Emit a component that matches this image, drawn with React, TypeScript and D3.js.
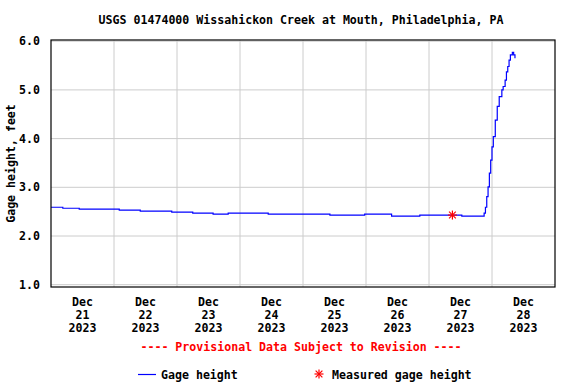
import React from "react";
import * as d3 from "d3";

const title = "USGS 01474000 Wissahickon Creek at Mouth, Philadelphia, PA";
const yLabel = "Gage height, feet";
const provisional = "---- Provisional Data Subject to Revision ----";
const yTicks = [1, 2, 3, 4, 5, 6];
const dayLabels = ["21", "22", "23", "24", "25", "26", "27", "28"];
const gageTimes = [
  "2023-12-21T00:00", "2023-12-21T04:30", "2023-12-21T10:45", "2023-12-22T02:00",
  "2023-12-22T10:00", "2023-12-22T22:00", "2023-12-23T06:00", "2023-12-23T13:45",
  "2023-12-23T19:30", "2023-12-24T10:45", "2023-12-25T10:15", "2023-12-25T23:30",
  "2023-12-26T09:45", "2023-12-26T20:30", "2023-12-27T12:30", "2023-12-27T20:00",
  "2023-12-27T21:00", "2023-12-27T21:30", "2023-12-27T22:00", "2023-12-27T22:30",
  "2023-12-27T23:00", "2023-12-27T23:30", "2023-12-28T00:00", "2023-12-28T00:30",
  "2023-12-28T01:15", "2023-12-28T02:00", "2023-12-28T02:45", "2023-12-28T03:45",
  "2023-12-28T04:15", "2023-12-28T05:00", "2023-12-28T05:30", "2023-12-28T06:00",
  "2023-12-28T06:30", "2023-12-28T07:00", "2023-12-28T07:45", "2023-12-28T08:15",
  "2023-12-28T08:45",
];
const gageValues = [
  2.59, 2.57, 2.55, 2.53,
  2.51, 2.49, 2.47, 2.45,
  2.47, 2.45, 2.43, 2.45,
  2.41, 2.43, 2.41, 2.41,
  2.47, 2.59, 2.81, 3.01,
  3.29, 3.56, 3.83, 4.04,
  4.38, 4.66, 4.86, 5.0,
  5.07, 5.2, 5.37, 5.48,
  5.61, 5.72, 5.77, 5.72,
  5.65,
];
const measuredTimes = ["2023-12-27T08:55"];
const measuredValues = [2.43];

const parse = d3.utcParse("%Y-%m-%dT%H:%M");
const FONT = "'DejaVu Sans Mono', monospace";

export default function App() {
  const W = 576, H = 384;
  const L = 51, R = 555, T = 40, B = 287;
  const x = d3.scaleUtc()
    .domain([parse("2023-12-21T00:00")!, parse("2023-12-29T00:00")!])
    .range([L, R]);
  const y = d3.scaleLinear().domain([1, 6]).range([284.7, 41.2]);
  const days = d3.utcDay.range(parse("2023-12-21T00:00")!, parse("2023-12-29T00:00")!);
  const midnights = days.slice(1);
  const data = gageTimes.map((t, i) => ({ t: parse(t)!, v: gageValues[i] }));
  const line = d3.line<{ t: Date; v: number }>()
    .x((d) => x(d.t))
    .y((d) => y(d.v))
    .curve(d3.curveStepAfter);
  const meas = measuredTimes.map((t, i) => ({ t: parse(t)!, v: measuredValues[i] }));
  const star = (cx: number, cy: number, r: number, key: string) => (
    <g key={key} stroke="#ff0000" strokeWidth={1.2}>
      <line x1={cx - r} y1={cy} x2={cx + r} y2={cy} />
      <line x1={cx} y1={cy - r} x2={cx} y2={cy + r} />
      <line x1={cx - r * 0.75} y1={cy - r * 0.75} x2={cx + r * 0.75} y2={cy + r * 0.75} />
      <line x1={cx - r * 0.75} y1={cy + r * 0.75} x2={cx + r * 0.75} y2={cy - r * 0.75} />
    </g>
  );
  return (
    <div style={{ position: "absolute", left: 0, top: 0 }}>
      <svg width={W} height={H} style={{ display: "block", background: "#fff" }}>
        <text x={301} y={24} textAnchor="middle" fontFamily={FONT} fontWeight="bold" fontSize={11.6} fill="#000">
          {title}
        </text>
        {yTicks.map((v) => (
          <line key={"gy" + v} x1={L} x2={R} y1={y(v)} y2={y(v)} stroke="#cccccc" strokeWidth={1} />
        ))}
        {midnights.map((d, i) => (
          <line key={"gx" + i} x1={x(d)} x2={x(d)} y1={T} y2={B} stroke="#cccccc" strokeWidth={1} />
        ))}
        <path d={line(data) || ""} fill="none" stroke="#0000ff" strokeWidth={1.2} />
        {meas.map((m, i) => star(x(m.t), y(m.v), 4.5, "m" + i))}
        <rect x={L} y={T} width={R - L} height={B - T} fill="none" stroke="#000" strokeWidth={1.2} />
        {yTicks.map((v) => (
          <text key={"ty" + v} x={40} y={y(v) + 4} textAnchor="end" fontFamily={FONT} fontWeight="bold" fontSize={11.6} fill="#000">
            {v.toFixed(1)}
          </text>
        ))}
        <text transform={`translate(15,${(T + B) / 2}) rotate(-90)`} textAnchor="middle" fontFamily={FONT} fontWeight="bold" fontSize={11.6} fill="#000">
          {yLabel}
        </text>
        {days.map((d, i) => {
          const cx = x(d3.utcHour.offset(d, 12));
          return (
            <text key={"tx" + i} textAnchor="middle" fontFamily={FONT} fontWeight="bold" fontSize={11.6} fill="#000">
              <tspan x={cx} y={306}>Dec</tspan>
              <tspan x={cx} y={319}>{dayLabels[i]}</tspan>
              <tspan x={cx} y={332}>2023</tspan>
            </text>
          );
        })}
        <text x={301} y={351} textAnchor="middle" fontFamily={FONT} fontWeight="bold" fontSize={11.6} fill="#ff0000">
          {provisional}
        </text>
        <line x1={138} x2={156} y1={374.5} y2={374.5} stroke="#0000ff" strokeWidth={1.2} />
        <text x={161} y={379} fontFamily={FONT} fontWeight="bold" fontSize={11.6} fill="#000">Gage height</text>
        {star(319, 374, 4.5, "leg")}
        <text x={332} y={379} fontFamily={FONT} fontWeight="bold" fontSize={11.6} fill="#000">Measured gage height</text>
      </svg>
    </div>
  );
}
